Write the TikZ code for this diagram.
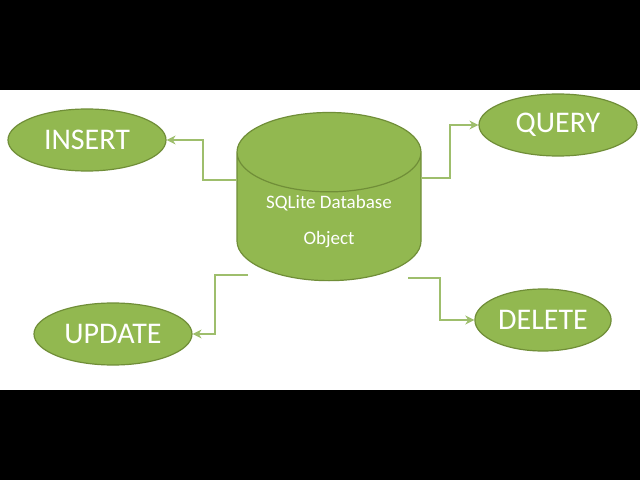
\documentclass[tikz,border=0pt]{standalone}
\usepackage{fontspec}
\setmainfont{Carlito}
\usetikzlibrary{shapes.geometric, arrows.meta, positioning, calc}
\definecolor{dbfill}{RGB}{146,184,80}
\definecolor{dbline}{RGB}{112,142,56}
\definecolor{dbarrow}{RGB}{158,190,108}
\tikzset{
  op/.style={ellipse, draw=dbline, fill=dbfill, line width=1.2pt, minimum width=158pt, minimum height=62pt, text=white, font=\fontsize{30}{30}\selectfont},
  link/.style={draw=dbarrow, line width=2.5pt, -{Stealth[length=9pt,width=9pt]}}
}
\begin{document}
\begin{tikzpicture}[x=1pt, y=1pt]
\fill[black] (0,0) rectangle (640,480);
\fill[white] (0,90) rectangle (640,390);
% database
\node[cylinder, shape border rotate=90, aspect=0.6, draw=dbline, fill=dbfill, line width=1.2pt, minimum width=184pt, minimum height=128pt, text=white, align=center, font=\fontsize{19}{36}\selectfont] (db) at (329,258) {SQLite Database\\Object};
% operations
\node[op] (ins) at (87,340) {INSERT};
\node[op] (qry) at (558,355) {QUERY};
\node[op] (upd) at (113,146) {UPDATE};
\node[op, minimum width=132pt] (del) at (543,160) {DELETE};
% links
\coordinate (a) at (237,300);
\coordinate (b) at (421,302);
\coordinate (c) at (248,205);
\coordinate (d) at (408,202);
\draw[link] (a) -- ++(-34,0) |- (ins.east);
\draw[link] (b) -- ++(29,0) |- (qry.west);
\draw[link] (c) -- ++(-33,0) |- (upd.east);
\draw[link] (d) -- ++(32,0) |- (del.west);
\end{tikzpicture}
\end{document}
